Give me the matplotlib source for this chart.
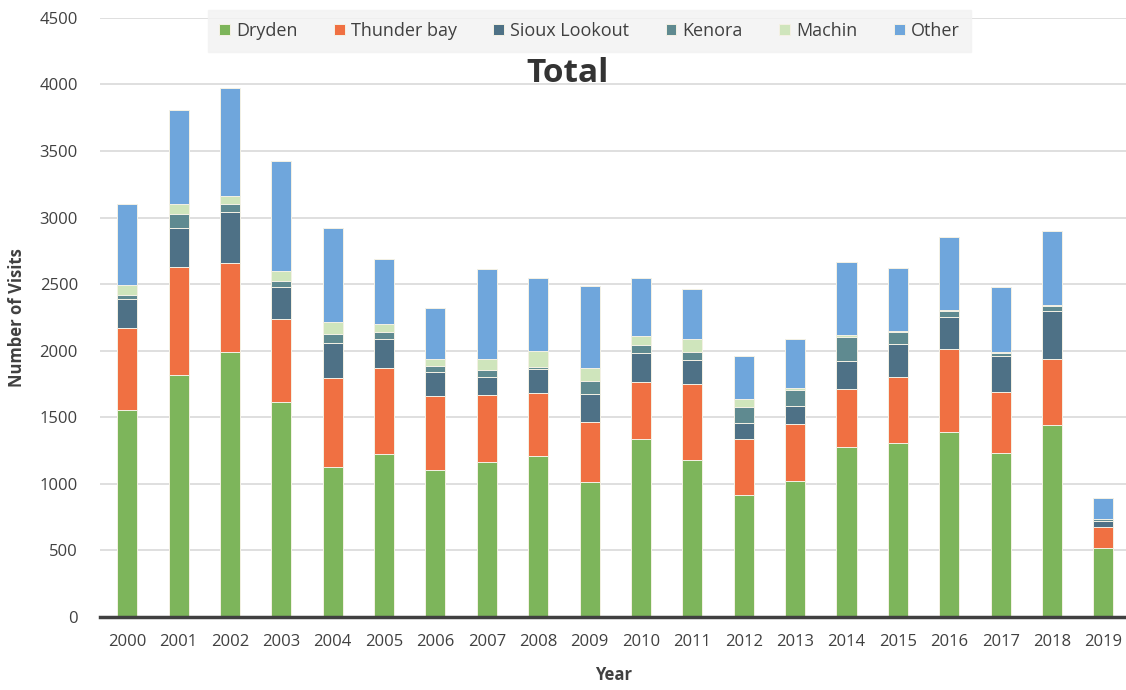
import matplotlib
matplotlib.use("Agg")
import matplotlib.pyplot as plt
import numpy as np

years = [str(y) for y in range(2000, 2020)]
dryden = [1555, 1820, 1990, 1615, 1125, 1220, 1105, 1165, 1205, 1010, 1335, 1180, 915, 1020, 1275, 1305, 1390, 1228, 1440, 520]
thunder_bay = [617, 805, 670, 625, 668, 650, 556, 500, 480, 455, 427, 570, 425, 432, 440, 497, 625, 462, 500, 157]
sioux_lookout = [220, 295, 385, 235, 268, 220, 180, 138, 175, 213, 223, 180, 120, 133, 205, 250, 237, 270, 355, 43]
kenora = [30, 105, 60, 45, 65, 50, 43, 50, 20, 93, 57, 62, 118, 122, 182, 88, 45, 25, 40, 12]
machin = [70, 75, 55, 75, 93, 62, 50, 84, 118, 100, 68, 95, 62, 15, 13, 7, 10, 8, 10, 5]
other = [610, 705, 810, 830, 700, 488, 390, 680, 545, 616, 433, 373, 320, 368, 550, 473, 545, 485, 552, 158]

series_names = ["Dryden", "Thunder bay", "Sioux Lookout", "Kenora", "Machin", "Other"]
series_vals = [dryden, thunder_bay, sioux_lookout, kenora, machin, other]
colors = ["#7db55b", "#f07042", "#4e7186", "#5f8a90", "#cfe5bc", "#6fa6dc"]

plt.rcParams['font.family'] = ['Open Sans', 'DejaVu Sans']

fig = plt.figure(figsize=(11.26, 6.9), dpi=100)
ax = fig.add_axes([0.089, 0.106, 0.911, 0.868])

x = np.arange(len(years))
bottom = np.zeros(len(years))
handles = []
for name, vals, c in zip(series_names, series_vals, colors):
    v = np.array(vals, dtype=float)
    b = ax.bar(x, v, bottom=bottom, width=0.39, color=c, edgecolor="#f4f1e4",
               linewidth=0.7, label=name, zorder=3)
    handles.append(b)
    bottom += v

ax.set_ylim(0, 4500)
ax.set_xlim(-0.525, 19.44)
ax.set_yticks(np.arange(0, 4501, 500))
ax.set_xticks(x)
ax.set_xticklabels(years)
ax.yaxis.grid(True, color="#d9d9d9", linewidth=1.2, zorder=0)
ax.set_axisbelow(True)
for s in ["top", "right", "left"]:
    ax.spines[s].set_visible(False)
ax.spines["bottom"].set_color("#404040")
ax.spines["bottom"].set_linewidth(2.5)
ax.spines["bottom"].set_zorder(4)
ax.tick_params(axis="both", length=0, labelsize=12, labelcolor="#404040")
ax.tick_params(axis="x", pad=12)
ax.tick_params(axis="y", pad=16)

ax.set_xlabel("Year", fontsize=12, fontweight="bold", color="#404040", labelpad=12)
ax.set_ylabel("Number of Visits", fontsize=12, fontweight="bold", color="#404040", labelpad=10)

ax.text(0.456, 0.908, "Total", transform=ax.transAxes, ha="center", va="center",
        fontsize=24, fontweight="bold", color="#333333", zorder=5)

leg = ax.legend(handles=handles, loc="center", bbox_to_anchor=(0.477, 0.978), ncol=6,
                frameon=True, fontsize=13, handlelength=0.6, handleheight=0.6,
                handletextpad=0.35, columnspacing=2.0, borderpad=0.35)
leg.get_frame().set_facecolor("#f2f2f2")
leg.get_frame().set_edgecolor("#f2f2f2")
leg.get_frame().set_boxstyle("square", pad=0.3)
leg.set_zorder(5)
for t in leg.get_texts():
    t.set_color("#404040")

fig.savefig("out.png", dpi=100, facecolor="white")
